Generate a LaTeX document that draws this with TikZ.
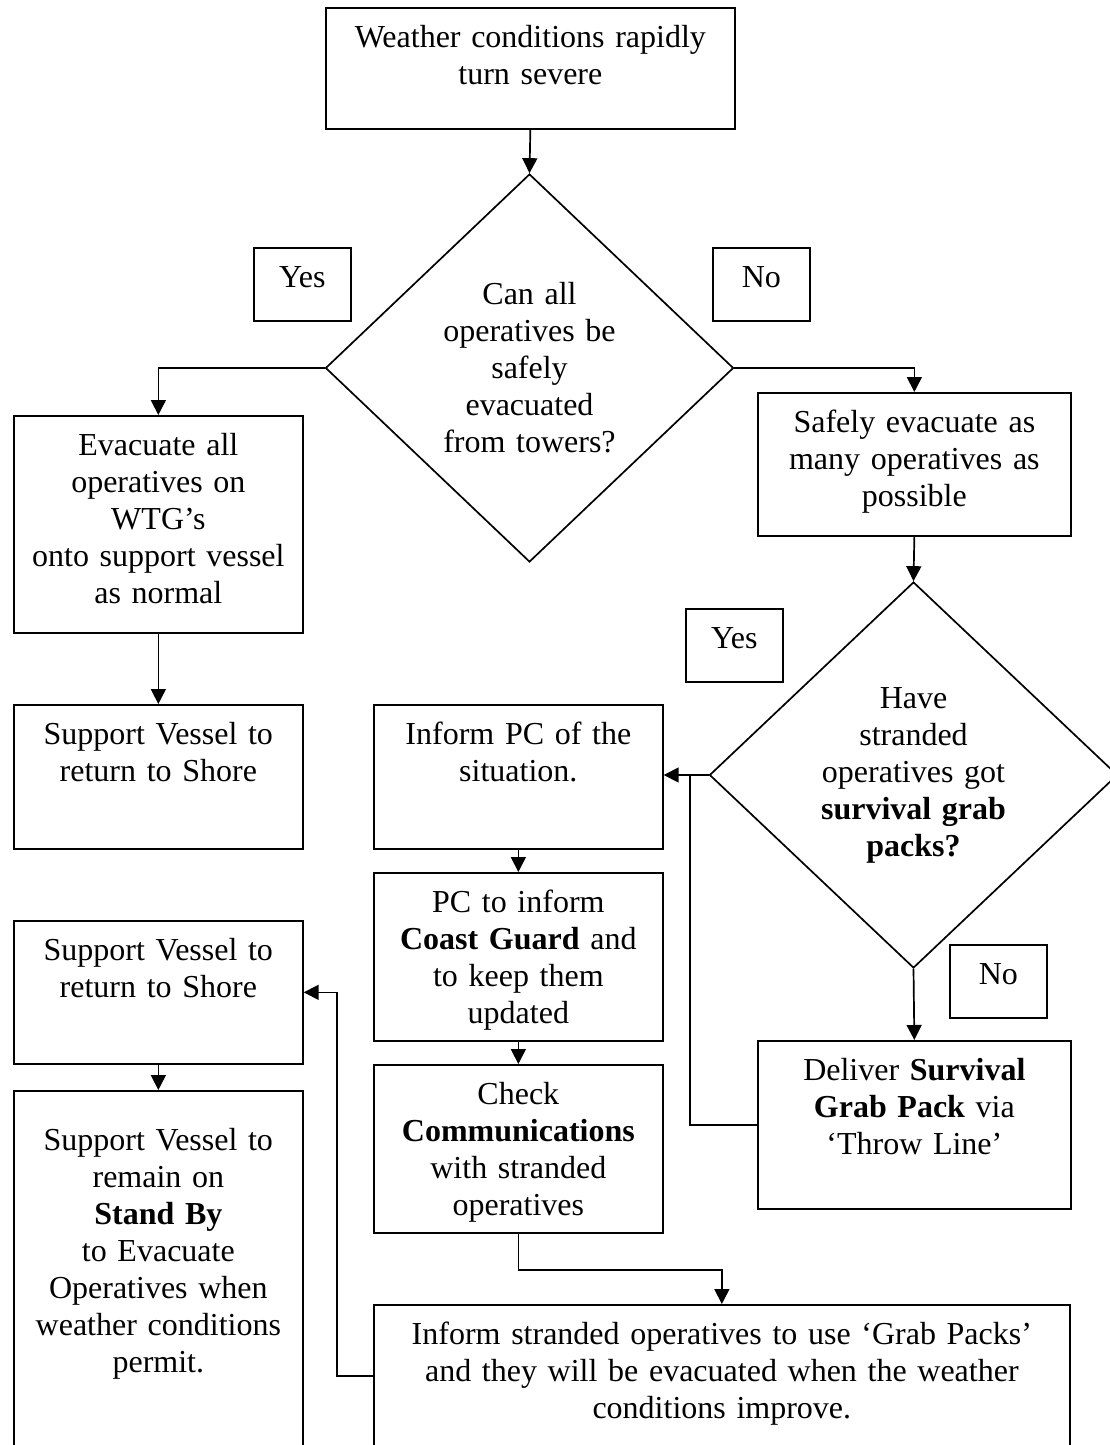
\documentclass[tikz,border=0pt]{standalone}
\usepackage{fontspec}
\setmainfont{Liberation Serif}
\usepackage{tikz}
\usetikzlibrary{arrows.meta, positioning, shapes.geometric}

\begin{document}
\begin{tikzpicture}[
    x=1pt, y=-1pt,
    >={Triangle[length=15pt, width=15pt]},
    font=\fontsize{32}{37}\selectfont,
    procbox/.style 2 args={draw, line width=1.7pt, anchor=north west, inner sep=0pt, align=center, text width=#1, text height=40pt, text depth=#2},
    decision/.style={draw, diamond, line width=1.7pt, inner sep=0pt, align=center, text width=190pt},
    answer/.style={procbox={97pt}{33pt}},
    flow/.style={->, line width=1.7pt},
]
    \useasboundingbox (0,0) rectangle (1110,1445);
    \clip (0,0) rectangle (1110,1445);

    % Start
    \node[procbox={409pt}{81pt}] (weather) at (325,7) {Weather conditions rapidly\\turn severe};

    % First decision
    \node[decision, minimum width=408pt, minimum height=388pt] (canall) at (529.5,368) {Can all\\operatives be\\safely\\evacuated\\from towers?};
    \node[answer] (yesA) at (253,247) {Yes};
    \node[answer] (noA) at (712,247) {No};

    % Left column
    \node[procbox={289pt}{177pt}] (evac) at (13,415) {Evacuate all\\operatives on\\WTG’s\\onto support vessel\\as normal};
    \node[procbox={289pt}{104pt}] (shoreA) at (13,704) {Support Vessel to\\return to Shore};
    \node[procbox={289pt}{103pt}] (shoreB) at (13,920) {Support Vessel to\\return to Shore};
    \node[procbox={289pt}{310pt}, text height=60pt] (standby) at (13,1090) {Support Vessel to\\remain on\\\textbf{Stand By}\\to Evacuate\\Operatives when\\weather conditions\\permit.};

    % Right column
    \node[procbox={313pt}{103pt}] (safely) at (757,392) {Safely evacuate as\\many operatives as\\possible};
    \node[decision, minimum width=408pt, minimum height=386pt] (grab) at (913.5,775) {Have\\stranded\\operatives got\\\textbf{survival grab}\\\textbf{packs?}};
    \node[answer] (yesB) at (685,608) {Yes};
    \node[answer] (noB) at (949,944) {No};
    \node[procbox={313pt}{128pt}] (deliver) at (757,1040) {Deliver \textbf{Survival}\\\textbf{Grab Pack} via\\‘Throw Line’};

    % Middle column
    \node[procbox={289pt}{104pt}] (informpc) at (373,704) {Inform PC of the\\situation.};
    \node[procbox={289pt}{128pt}] (coastgd) at (373,872) {PC to inform\\\textbf{Coast Guard} and\\to keep them\\updated};
    \node[procbox={289pt}{128pt}] (checkcom) at (373,1064) {Check\\\textbf{Communications}\\with stranded\\operatives};
    \node[procbox={696pt}{120pt}] (informall) at (373,1304) {Inform stranded operatives to use ‘Grab Packs’\\and they will be evacuated when the weather\\conditions improve.};

    % Connectors
    \draw[flow] (weather.south) -- (canall.north);
    \draw[flow] (canall.west) -| (evac.north);
    \draw[flow] (canall.east) -| (safely.north);
    \draw[flow] (evac) -- (shoreA);
    \draw[flow] (safely.south) -- (grab.north);
    \draw[flow] (grab.west) -- (informpc.east |- grab.west);
    \coordinate (junc) at (690,775);
    \draw[line width=1.7pt] (deliver.west) -| (junc);
    \draw[flow] (grab.south) -- (deliver.north);
    \draw[flow] (informpc) -- (coastgd);
    \draw[flow] (coastgd) -- (checkcom);
    \draw[flow] (checkcom.south) -- ++(0,36) -| (informall.north);
    \draw[flow] ([yshift=-72pt]informall.north west) -- ++(-36,0) |- (shoreB.east);
    \draw[flow] (shoreB) -- (standby);
\end{tikzpicture}
\end{document}
